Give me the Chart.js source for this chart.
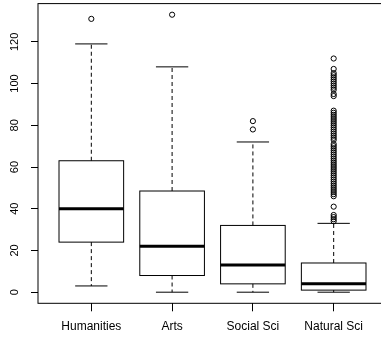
<!DOCTYPE html>
<html>
<head>
<meta charset="utf-8">
<script src="https://cdn.jsdelivr.net/npm/chart.js@4/dist/chart.umd.min.js"></script>
<style>
  html, body { margin: 0; padding: 0; background: #fff; overflow: hidden; }
  canvas { display: block; }
</style>
</head>
<body>
<canvas id="chart" width="400" height="337"></canvas>
<script>
// Five-number summaries per field
const categories    = ['Humanities', 'Arts', 'Social Sci', 'Natural Sci'];
const lowerWhisker  = [3, 0, 0, 0];
const lowerQuartile = [24, 8, 4, 1];
const medians       = [40, 22, 13, 4];
const upperQuartile = [63, 48.5, 32, 14];
const upperWhisker  = [119, 108, 72, 33];

// Points beyond 1.5 * IQR
const outliersHumanities = [131];
const outliersArts       = [133];
const outliersSocialSci  = [78, 82];
const outliersNaturalSci = [
  112, 107, 105, 104, 103, 102, 101, 100, 99, 98, 97, 95, 94,
  87, 86, 85, 84, 83, 82, 81, 80, 79, 78, 77, 76, 75, 74, 73,
  71, 70, 69, 68, 67, 66, 65, 64, 63, 62, 61, 60, 59, 58,
  57, 56, 55, 54, 53, 52, 51, 50, 49, 48, 47, 46,
  41, 37, 36, 35, 34
];
const outlierGroups = [outliersHumanities, outliersArts, outliersSocialSci, outliersNaturalSci];

const yTicks = [0, 20, 40, 60, 80, 100, 120];

const groupPositions = categories.map((_, i) => i + 1);
const BOX_WIDTH = 0.8;
const STAPLE_WIDTH = 0.4;

// Draws boxes, whiskers, staples and medians on the chart's own scales
const boxPlotPlugin = {
  id: 'boxPlot',
  beforeDatasetsDraw(chart) {
    const { ctx, scales: { x, y } } = chart;
    ctx.save();
    ctx.strokeStyle = '#000';
    groupPositions.forEach((pos, i) => {
      const xl = x.getPixelForValue(pos - BOX_WIDTH / 2);
      const xr = x.getPixelForValue(pos + BOX_WIDTH / 2);
      const xc = x.getPixelForValue(pos);
      const sl = x.getPixelForValue(pos - STAPLE_WIDTH / 2);
      const sr = x.getPixelForValue(pos + STAPLE_WIDTH / 2);
      const yLo = y.getPixelForValue(lowerWhisker[i]);
      const yQ1 = y.getPixelForValue(lowerQuartile[i]);
      const yMed = y.getPixelForValue(medians[i]);
      const yQ3 = y.getPixelForValue(upperQuartile[i]);
      const yHi = y.getPixelForValue(upperWhisker[i]);

      // whiskers (dashed)
      ctx.lineWidth = 1;
      ctx.setLineDash([4, 3]);
      ctx.beginPath();
      ctx.moveTo(xc, yQ3); ctx.lineTo(xc, yHi);
      ctx.moveTo(xc, yQ1); ctx.lineTo(xc, yLo);
      ctx.stroke();

      // staples
      ctx.setLineDash([]);
      ctx.beginPath();
      ctx.moveTo(sl, yHi); ctx.lineTo(sr, yHi);
      ctx.moveTo(sl, yLo); ctx.lineTo(sr, yLo);
      ctx.stroke();

      // box
      ctx.strokeRect(xl, yQ3, xr - xl, yQ1 - yQ3);

      // median
      ctx.lineWidth = 3;
      ctx.lineCap = 'butt';
      ctx.beginPath();
      ctx.moveTo(xl, yMed); ctx.lineTo(xr, yMed);
      ctx.stroke();
    });
    ctx.restore();
  },
  afterDraw(chart) {
    // frame around the plotting region
    const { ctx, chartArea: a } = chart;
    ctx.save();
    ctx.strokeStyle = '#000';
    ctx.lineWidth = 1;
    ctx.strokeRect(a.left, a.top, a.right - a.left, a.bottom - a.top);
    ctx.restore();
  }
};

Chart.defaults.font.family = "'Liberation Sans', Arial, sans-serif";
Chart.defaults.color = '#000';

new Chart(document.getElementById('chart'), {
  type: 'scatter',
  data: {
    datasets: [{
      label: 'Outliers',
      data: outlierGroups.flatMap((vals, i) => vals.map(v => ({ x: groupPositions[i], y: v }))),
      pointStyle: 'circle',
      pointRadius: 2.6,
      pointHoverRadius: 2.6,
      borderWidth: 1,
      borderColor: '#000',
      backgroundColor: 'rgba(0,0,0,0)'
    }]
  },
  options: {
    responsive: false,
    animation: false,
    events: [],
    layout: { padding: { top: 1.7, right: 13, bottom: 0, left: 0 } },
    plugins: { legend: { display: false }, tooltip: { enabled: false } },
    scales: {
      x: {
        type: 'linear',
        position: 'bottom',
        min: 0.34,
        max: 4.66,
        afterBuildTicks(scale) { scale.ticks = groupPositions.map(v => ({ value: v })); },
        afterFit(scale) {
          scale.height = 33.7;
          scale.paddingLeft = 0;
          scale.paddingRight = 0;
        },
        border: { display: false },
        grid: { drawOnChartArea: false, drawTicks: true, tickLength: 8, color: '#000', tickColor: '#000' },
        ticks: {
          autoSkip: false,
          maxRotation: 0,
          padding: 8,
          font: { size: 12 },
          color: '#000',
          callback: (value) => categories[Math.round(value) - 1]
        }
      },
      y: {
        type: 'linear',
        position: 'left',
        min: -5.32,
        max: 138.32,
        afterBuildTicks(scale) { scale.ticks = yTicks.map(v => ({ value: v })); },
        afterFit(scale) {
          scale.width = 38;
          scale.paddingTop = 0;
          scale.paddingBottom = 0;
        },
        border: { display: false },
        grid: { drawOnChartArea: false, drawTicks: true, tickLength: 7, color: '#000', tickColor: '#000' },
        ticks: {
          minRotation: 90,
          maxRotation: 90,
          crossAlign: 'center',
          padding: 7,
          font: { size: 11 },
          color: '#000'
        }
      }
    }
  },
  plugins: [boxPlotPlugin]
});
</script>
</body>
</html>
